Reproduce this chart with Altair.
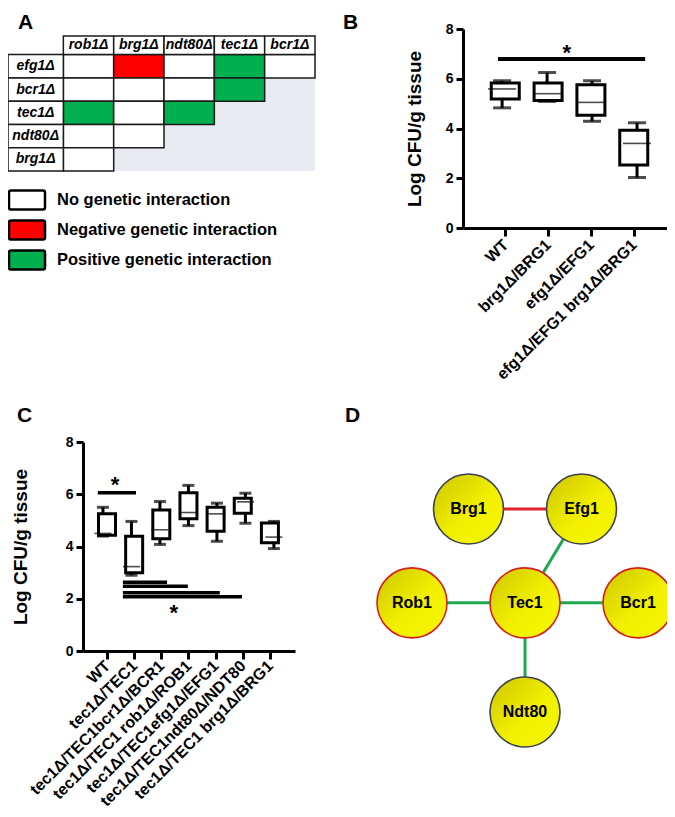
import altair as alt
import pandas as pd

FONT = "Liberation Sans"
W, H = 659, 801

# ---------------- Panel A : interaction matrix ----------------
a_cols = ["rob1Δ", "brg1Δ", "ndt80Δ", "tec1Δ", "bcr1Δ"]
a_rows = ["efg1Δ", "bcr1Δ", "tec1Δ", "ndt80Δ", "brg1Δ"]
a_matrix = [
    ["none", "negative", "none", "positive", "none"],
    ["none", "none", "none", "positive"],
    ["positive", "none", "positive"],
    ["none", "none"],
    ["none"],
]
legend_labels = ["No genetic interaction", "Negative genetic interaction", "Positive genetic interaction"]
interaction_types = ["none", "negative", "positive", "blank"]
interaction_colors = ["#ffffff", "#ff0000", "#00b050", "#e8ebf2"]

# ---------------- Panel B ----------------
b_groups = ["WT", "brg1Δ/BRG1", "efg1Δ/EFG1", "efg1Δ/EFG1 brg1Δ/BRG1"]
b_min = [4.83, 5.09, 4.29, 2.03]
b_q1 = [5.19, 5.13, 4.53, 2.53]
b_med = [5.59, 5.40, 5.05, 3.40]
b_q3 = [5.83, 5.83, 5.76, 3.93]
b_max = [5.92, 6.25, 5.92, 4.23]
b_sig_from = [-0.09]
b_sig_to = [3.18]
b_sig_y = [6.79]
b_star_x = [1.44]
b_star_y = [7.25]

# ---------------- Panel C ----------------
c_groups = ["WT", "tec1Δ/TEC1", "tec1Δ/TEC1bcr1Δ/BCR1", "tec1Δ/TEC1 rob1Δ/ROB1",
            "tec1Δ/TEC1efg1Δ/EFG1", "tec1Δ/TEC1ndt80Δ/NDT80", "tec1Δ/TEC1 brg1Δ/BRG1"]
c_min = [4.40, 2.90, 4.08, 4.80, 4.20, 4.89, 3.92]
c_q1 = [4.43, 3.00, 4.30, 5.06, 4.58, 5.27, 4.14]
c_med = [4.50, 3.23, 4.64, 5.30, 5.25, 5.71, 4.36]
c_q3 = [5.25, 4.39, 5.40, 6.06, 5.50, 5.85, 4.90]
c_max = [5.50, 4.96, 5.72, 6.34, 5.66, 6.04, 4.96]
c_sig_from = [-0.18, 0.70, 0.70, 0.70, 0.70]
c_sig_to = [1.16, 2.25, 2.98, 4.10, 4.88]
c_sig_y = [6.06, 2.63, 2.48, 2.23, 2.08]
c_star_x = [0.42, 2.49]
c_star_y = [6.53, 1.66]

# ---------------- Panel D : network ----------------
node_names = ["Brg1", "Efg1", "Rob1", "Tec1", "Bcr1", "Ndt80"]
node_x = [-0.5, 0.5, -1, 0, 1, 0]
node_y = [0.86, 0.86, 0, 0, 0, -1]
node_border = ["dark", "dark", "red", "red", "red", "dark"]
edge_source = ["Brg1", "Efg1", "Rob1", "Tec1", "Tec1"]
edge_target = ["Efg1", "Tec1", "Tec1", "Bcr1", "Ndt80"]
edge_type = ["negative", "positive", "positive", "positive", "positive"]

layers = []

# ======== Panel A build ========
cells = []
for r, row in enumerate(a_matrix):
    for c, t in enumerate(row):
        cells.append(dict(x0=c, x1=c + 1, y0=r, y1=r + 1, type=t))
for c in range(len(a_cols)):
    cells.append(dict(x0=c, x1=c + 1, y0=-0.8, y1=0, type="none"))
for r in range(len(a_rows)):
    cells.append(dict(x0=-1.1, x1=0, y0=r, y1=r + 1, type="none"))
cells_df = pd.DataFrame(cells)
gray_df = pd.DataFrame([dict(x0=0, x1=len(a_cols), y0=1, y1=len(a_rows), type="blank")])

ax_scale = alt.Scale(domain=[-1.1, 5], range=[0, 307], nice=False, zero=False)
ay_scale = alt.Scale(domain=[-0.8, 5], range=[28, 163], nice=False, zero=False)
fill_scale = alt.Scale(domain=interaction_types, range=interaction_colors)

def rect_layer(df, stroke=True):
    kw = dict(stroke="#1a1a1a", strokeWidth=1.5) if stroke else dict(strokeWidth=0)
    return alt.Chart(df).mark_rect(**kw).encode(
        x=alt.X("x0:Q", scale=ax_scale, axis=None),
        x2="x1:Q",
        y=alt.Y("y0:Q", scale=ay_scale, axis=None),
        y2="y1:Q",
        color=alt.Color("type:N", scale=fill_scale, legend=None),
    )

layers.append(rect_layer(gray_df, stroke=False))
layers.append(rect_layer(cells_df))

head_df = pd.DataFrame(dict(lab=a_cols, x=[c + 0.5 for c in range(len(a_cols))], y=[-0.4] * len(a_cols)))
rowlab_df = pd.DataFrame(dict(lab=a_rows, x=[-0.55] * len(a_rows), y=[r + 0.5 for r in range(len(a_rows))]))
for df in (head_df, rowlab_df):
    layers.append(
        alt.Chart(df).mark_text(font=FONT, fontSize=14, fontWeight="bold", fontStyle="italic",
                                color="black", baseline="middle", align="center").encode(
            x=alt.X("x:Q", scale=ax_scale, axis=None),
            y=alt.Y("y:Q", scale=ay_scale, axis=None),
            text="lab:N",
        )
    )

# legend
leg_df = pd.DataFrame(dict(lab=legend_labels, type=interaction_types[:3], i=[0, 1, 2]))
leg_df["top"] = leg_df["i"] - 0.32
leg_df["bot"] = leg_df["i"] + 0.32
ly_scale = alt.Scale(domain=[0, 2], range=[192, 252], nice=False, zero=False)
layers.append(
    alt.Chart(leg_df).mark_rect(stroke="black", strokeWidth=2.5, cornerRadius=2).encode(
        x=alt.value(1), x2=alt.value(37),
        y=alt.Y("top:Q", scale=ly_scale, axis=None), y2="bot:Q",
        color=alt.Color("type:N", scale=fill_scale, legend=None),
    )
)
layers.append(
    alt.Chart(leg_df).mark_text(font=FONT, fontSize=16.5, fontWeight="bold", align="left",
                                baseline="middle", color="black").encode(
        x=alt.value(49), y=alt.Y("i:Q", scale=ly_scale, axis=None), text="lab:N"
    )
)

# ======== box plot builder ========
def box_layers(groups, mn, q1, md, q3, mx, xs, ys, box_w, cap_w, sw, xaxis, yaxis):
    df = pd.DataFrame(dict(g=groups, pos=list(range(len(groups))), mn=mn, q1=q1, md=md, q3=q3, mx=mx))
    X = lambda ax=None: alt.X("pos:Q", scale=xs, axis=ax)
    out = []
    out.append(alt.Chart(df).mark_rule(color="black", strokeWidth=sw).encode(
        x=X(), y=alt.Y("mn:Q", scale=ys, axis=None), y2="mx:Q"))
    out.append(alt.Chart(df).mark_bar(size=box_w, fill="white", stroke="black", strokeWidth=sw).encode(
        x=X(xaxis), y=alt.Y("q1:Q", scale=ys, axis=yaxis), y2="q3:Q"))
    for col in ("mn", "mx"):
        out.append(alt.Chart(df).mark_tick(orient="horizontal", size=cap_w, thickness=sw, color="black").encode(
            x=X(), y=alt.Y(f"{col}:Q", scale=ys, axis=None)))
    out.append(alt.Chart(df).mark_tick(orient="horizontal", size=box_w, thickness=1.6, color="black").encode(
        x=X(), y=alt.Y("md:Q", scale=ys, axis=None)))
    return out

def label_expr(groups):
    return "[" + ",".join("'" + g + "'" for g in groups) + "][datum.value]"

def y_axis(offset, title_pad):
    return alt.Axis(orient="left", offset=offset, values=[0, 2, 4, 6, 8], format="d",
                    title="Log CFU/g tissue", titlePadding=title_pad, titleFontSize=19,
                    titleFontWeight="bold", titleFont=FONT, titleColor="black",
                    domainColor="black", domainWidth=3, tickColor="black", tickWidth=3, tickSize=7,
                    labelFont=FONT, labelFontSize=14, labelFontWeight="bold", labelColor="black",
                    labelPadding=3, grid=False)

def x_axis(offset, groups, fsize, pad):
    return alt.Axis(orient="bottom", offset=offset, values=list(range(len(groups))),
                    labelExpr=label_expr(groups), title=None, labelAngle=-45, labelAlign="right",
                    labelBaseline="middle", labelOverlap=False, labelFlush=False, labelBound=False,
                    labelLimit=0,
                    domainColor="black", domainWidth=3, tickColor="black", tickWidth=3, tickSize=8,
                    labelFont=FONT, labelFontSize=fsize, labelFontWeight="bold", labelColor="black",
                    labelPadding=pad, grid=False)

def sig_layers(frm, to, yy, sx, sy, xs, ys, sw):
    sdf = pd.DataFrame(dict(a=frm, b=to, y=yy))
    tdf = pd.DataFrame(dict(x=sx, y=sy, t=["*"] * len(sx)))
    return [
        alt.Chart(sdf).mark_rule(color="black", strokeWidth=sw).encode(
            x=alt.X("a:Q", scale=xs, axis=None), x2="b:Q", y=alt.Y("y:Q", scale=ys, axis=None)),
        alt.Chart(tdf).mark_text(font=FONT, fontSize=22, fontWeight="bold", color="black",
                                 baseline="middle", dy=5).encode(
            x=alt.X("x:Q", scale=xs, axis=None), y=alt.Y("y:Q", scale=ys, axis=None), text="t:N"),
    ]

# ======== Panel B ========
bx = alt.Scale(domain=[-0.87, 3.8], range=[455, 665], nice=False, zero=False)
by = alt.Scale(domain=[0, 8], range=[220, 21], nice=False, zero=False)
layers += box_layers(b_groups, b_min, b_q1, b_med, b_q3, b_max, bx, by, 28, 18, 3,
                     x_axis(220 - H, b_groups, 16, 6), y_axis(-455, 21))
layers += sig_layers(b_sig_from, b_sig_to, b_sig_y, b_star_x, b_star_y, bx, by, 4)

# ======== Panel C ========
cx = alt.Scale(domain=[-0.7, 6.74], range=[75, 287], nice=False, zero=False)
cy = alt.Scale(domain=[0, 8], range=[643, 434], nice=False, zero=False)
layers += box_layers(c_groups, c_min, c_q1, c_med, c_q3, c_max, cx, cy, 17, 12, 3,
                     x_axis(643 - H, c_groups, 16, 4), y_axis(-75, 35))
layers += sig_layers(c_sig_from, c_sig_to, c_sig_y, c_star_x, c_star_y, cx, cy, 3.5)

# ======== Panel D ========
nodes = pd.DataFrame(dict(name=node_names, x=node_x, y=node_y, border=node_border))
pos = {n: (x, y) for n, x, y in zip(node_names, node_x, node_y)}
edges = pd.DataFrame(dict(
    s=edge_source, t=edge_target, kind=edge_type,
    x=[pos[s][0] for s in edge_source], y=[pos[s][1] for s in edge_source],
    x2=[pos[t][0] for t in edge_target], y2=[pos[t][1] for t in edge_target],
))
dx = alt.Scale(domain=[-1, 1], range=[404, 630], nice=False, zero=False)
dy = alt.Scale(domain=[-1, 0.86], range=[704, 501], nice=False, zero=False)
layers.append(alt.Chart(edges).mark_rule(strokeWidth=3).encode(
    x=alt.X("x:Q", scale=dx, axis=None), x2="x2:Q",
    y=alt.Y("y:Q", scale=dy, axis=None), y2="y2:Q",
    color=alt.Color("kind:N", scale=alt.Scale(domain=["negative", "positive"],
                                              range=["#e0242c", "#1fa84f"]), legend=None),
))
yellow = alt.Gradient(gradient="linear",
                      stops=[alt.GradientStop(color="#cdc500", offset=0),
                             alt.GradientStop(color="#f2f000", offset=0.55),
                             alt.GradientStop(color="#f8f800", offset=1)],
                      x1=0, y1=0, x2=1, y2=1)
layers.append(alt.Chart(nodes).mark_point(shape="circle", filled=True, fill=yellow, opacity=1,
                                          size=4900, strokeWidth=1.6).encode(
    x=alt.X("x:Q", scale=dx, axis=None),
    y=alt.Y("y:Q", scale=dy, axis=None),
    stroke=alt.Stroke("border:N", scale=alt.Scale(domain=["dark", "red"],
                                                 range=["#3c4152", "#d6201f"]), legend=None),
))
layers.append(alt.Chart(nodes).mark_text(font=FONT, fontSize=16, fontWeight="bold", color="black",
                                         baseline="middle").encode(
    x=alt.X("x:Q", scale=dx, axis=None), y=alt.Y("y:Q", scale=dy, axis=None), text="name:N"))

# ======== Panel letters ========
for letter, lx, ly in [("A", 10, 4), ("B", 335, 4), ("C", 9, 397), ("D", 337, 397)]:
    layers.append(alt.Chart(pd.DataFrame(dict(t=[letter]))).mark_text(
        font=FONT, fontSize=21, fontWeight="bold", color="black", align="left", baseline="top").encode(
        x=alt.value(lx), y=alt.value(ly), text="t:N"))

chart = alt.layer(*layers).resolve_scale(
    x="independent", y="independent", color="independent", stroke="independent"
).resolve_axis(x="independent", y="independent").properties(
    width=W, height=H, padding=0, autosize="none", background="white"
).configure_view(stroke=None)

chart.save("out.html", embed_options={"renderer": "svg", "actions": False})
